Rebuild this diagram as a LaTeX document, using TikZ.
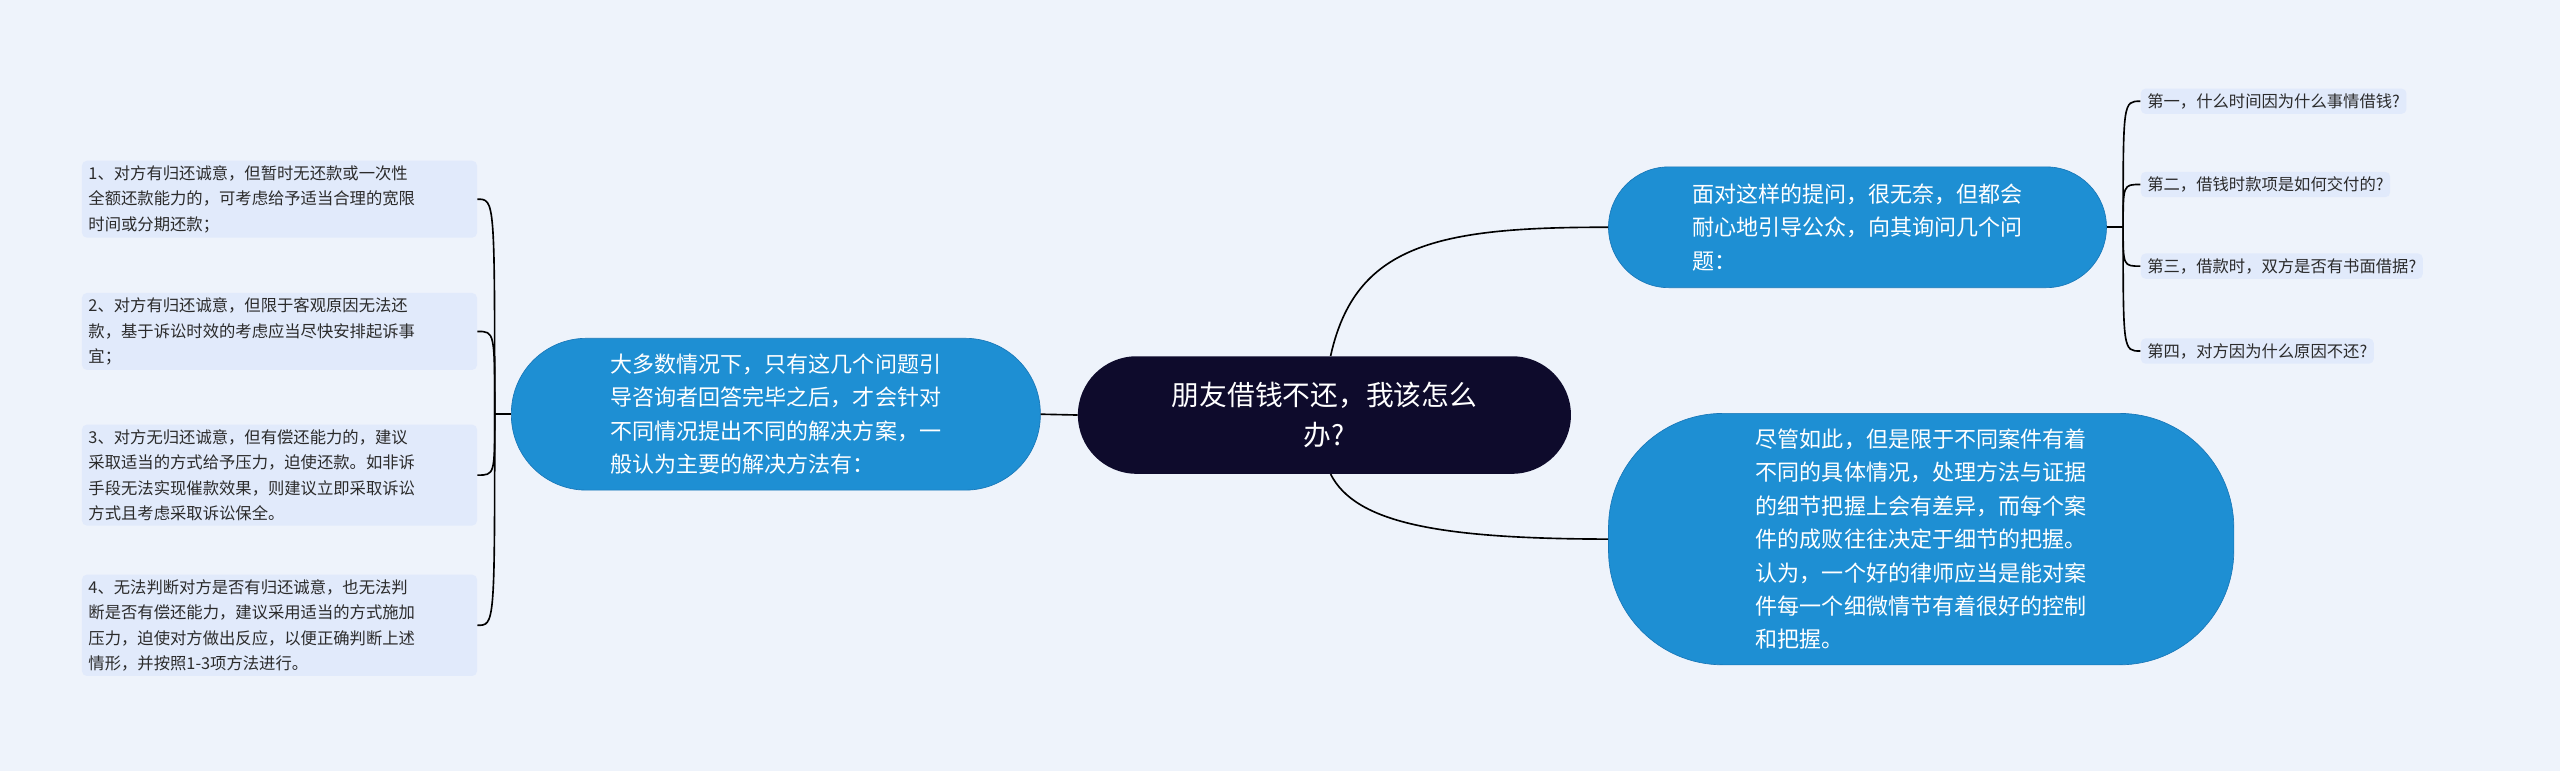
\documentclass[tikz,border=0pt]{standalone}
\usepackage{fontspec}
\setmainfont{Noto Sans CJK SC}
\definecolor{bg}{HTML}{EEF3FB}
\definecolor{navy}{HTML}{0E0B2C}
\definecolor{blu}{HTML}{1E8FD3}
\definecolor{bluB}{HTML}{1877B8}
\definecolor{leaf}{HTML}{E1EAFB}
\definecolor{txt}{HTML}{2B2B2B}
\begin{document}
\begin{tikzpicture}[x=1pt,y=-1pt,
  box/.style={rounded corners=#1,inner sep=0pt,anchor=north west},
  lf/.style={fill=leaf,rounded corners=3pt,anchor=west,align=left,text=txt,font=\fontsize{10}{15.5}\selectfont,inner xsep=4pt,inner ysep=3pt,text width=#1},
  con/.style={draw=black,line width=1pt}]
\fill[bg] (0,0) rectangle (1568,472);
\useasboundingbox (0,0) rectangle (1568,472);
% main nodes
\node[box=36pt,fill=navy,minimum width=302pt,minimum height=72pt,text=white,align=center,font=\fontsize{17}{25}\selectfont] (C) at (660,218) {朋友借钱不还，我该怎么\\办?};
\node[box=46pt,fill=blu,draw=bluB,minimum width=324pt,minimum height=93pt,text=white,align=left,font=\fontsize{13.5}{20.5}\selectfont] (L) at (313,207) {大多数情况下，只有这几个问题引\\导咨询者回答完毕之后，才会针对\\不同情况提出不同的解决方案，一\\般认为主要的解决方法有：};
\node[box=37pt,fill=blu,draw=bluB,minimum width=305pt,minimum height=74pt,text=white,align=left,font=\fontsize{13.5}{20.5}\selectfont] (R1) at (985,102) {面对这样的提问，很无奈，但都会\\耐心地引导公众，向其询问几个问\\题：};
\node[box=70pt,fill=blu,draw=bluB,minimum width=383pt,minimum height=154pt,text=white,align=left,font=\fontsize{13.5}{20.5}\selectfont] (R2) at (985,253) {尽管如此，但是限于不同案件有着\\不同的具体情况，处理方法与证据\\的细节把握上会有差异，而每个案\\件的成败往往决定于细节的把握。\\认为，一个好的律师应当是能对案\\件每一个细微情节有着很好的控制\\和把握。};
% left leaves
\node[lf=234pt] (a1) at (50,122) {1、对方有归还诚意，但暂时无还款或一次性\\全额还款能力的，可考虑给予适当合理的宽限\\时间或分期还款；};
\node[lf=234pt] (a2) at (50,203) {2、对方有归还诚意，但限于客观原因无法还\\款，基于诉讼时效的考虑应当尽快安排起诉事\\宜；};
\node[lf=234pt] (a3) at (50,291) {3、对方无归还诚意，但有偿还能力的，建议\\采取适当的方式给予压力，迫使还款。如非诉\\手段无法实现催款效果，则建议立即采取诉讼\\方式且考虑采取诉讼保全。};
\node[lf=234pt] (a4) at (50,383) {4、无法判断对方是否有归还诚意，也无法判\\断是否有偿还能力，建议采用适当的方式施加\\压力，迫使对方做出反应，以便正确判断上述\\情形，并按照1-3项方法进行。};
% right leaves
\node[lf=,text width=] (b1) at (1311,62) {第一，什么时间因为什么事情借钱?};
\node[lf=,text width=] (b2) at (1311,113) {第二，借钱时款项是如何交付的?};
\node[lf=,text width=] (b3) at (1311,163) {第三，借款时，双方是否有书面借据?};
\node[lf=,text width=] (b4) at (1311,215) {第四，对方因为什么原因不还?};
% connectors
\draw[con] (C.west) -- (L.east);
\draw[con] (C.north west) ++(155,0) coordinate (ct) .. controls (830,150) and (880,139) .. (R1.west);
\draw[con] (C.south west) ++(155,0) coordinate (cb) .. controls (830,320) and (880,330) .. (R2.west);
\draw[con] (L.west) -- ++(-10,0) coordinate (lb);
\foreach \n in {a1,a2,a3,a4}{
  \draw[con] (lb) .. controls (lb |- \n.east) .. (\n.east);}
\draw[con] (R1.east) -- ++(10,0) coordinate (rb);
\foreach \n in {b1,b2,b3,b4}{
  \draw[con] (rb) .. controls (rb |- \n.west) .. (\n.west);}
\end{tikzpicture}
\end{document}
